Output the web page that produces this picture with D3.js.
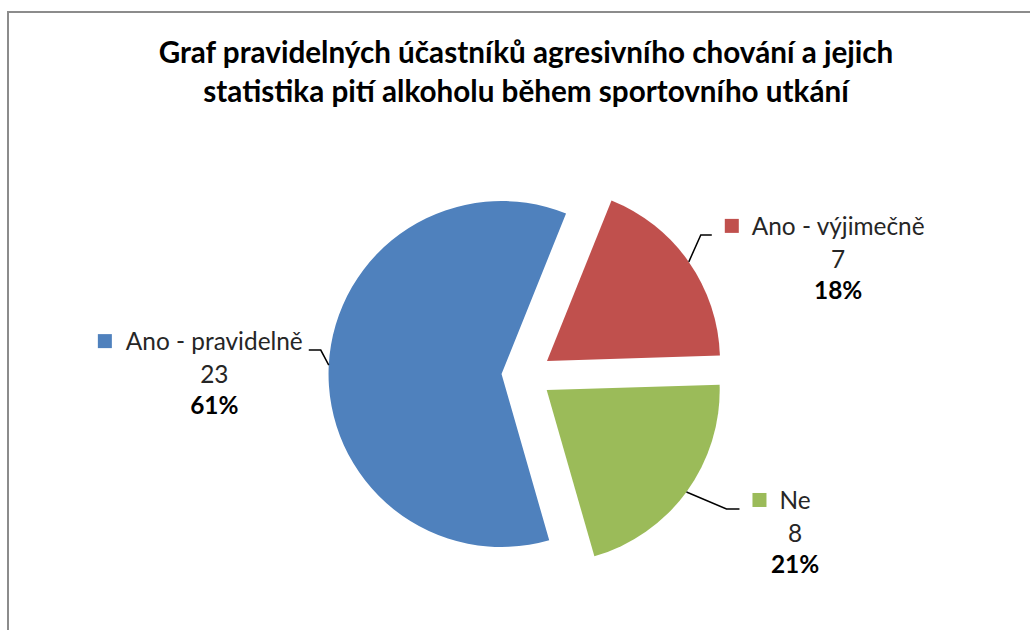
<!DOCTYPE html>
<html>
<head>
<meta charset="utf-8">
<script src="https://cdn.jsdelivr.net/npm/d3@7"></script>
<style>
  body { margin: 0; background: #fff; }
  svg { display: block; }
</style>
</head>
<body>
<div id="graf"></div>
<script>
// data
var categories = ["Ano - pravidelně", "Ano - výjimečně", "Ne"];
var values = [23, 7, 8];
var colors = ["#4F81BD", "#C0504D", "#9BBB59"];
var titleLines = ["Graf pravidelných účastníků agresivního chování a jejich",
                  "statistika pití alkoholu během sportovního utkání"];

var w = 1030, h = 630;
var font = "Lato, 'Open Sans', sans-serif";
var cx = 526.5, cy = 375.3, r = 173, explode = 25;
var start = 164 * Math.PI / 180;

// leader line elbows: [dx, dy] from arc point, then horizontal length
var leader = [[-8, -15, -12], [12, -27, 11], [40, 17, 13]];

var svg = d3.select("#graf").append("svg")
  .attr("width", w)
  .attr("height", h);

// border (only top and left visible)
svg.append("path")
  .attr("d", "M8," + h + "V12H" + w)
  .attr("fill", "none")
  .attr("stroke", "#8c8c8c")
  .attr("stroke-width", 2);

// fit a font size so that a string gets a given width
function fitSize(str, weight, target) {
  var t = svg.append("text").attr("font-family", font).attr("font-weight", weight)
    .attr("font-size", 100).text(str);
  var len = t.node().getComputedTextLength();
  t.remove();
  return 100 * target / len;
}

var titleSize = fitSize(titleLines[0], "bold", 735);
var labelSize = fitSize(categories[0], "normal", 177);

svg.selectAll(".title")
  .data(titleLines)
  .enter()
  .append("text")
  .attr("class", "title")
  .attr("x", 526)
  .attr("y", function(d, i) { return 63 + i * 39; })
  .attr("text-anchor", "middle")
  .attr("font-family", font)
  .attr("font-weight", "bold")
  .attr("font-size", titleSize)
  .attr("fill", "#000")
  .text(function(d) { return d; });

var pie = d3.pie().sort(null).startAngle(start).endAngle(start + 2 * Math.PI);
var arcs = pie(values);
var arc = d3.arc().innerRadius(0).outerRadius(r);
var total = d3.sum(values);
var pct = d3.format(".0%");

var g = svg.append("g").attr("transform", "translate(" + cx + "," + cy + ")");

arcs.forEach(function(a, i) {
  var mid = (a.startAngle + a.endAngle) / 2;
  var ox = Math.sin(mid) * explode, oy = -Math.cos(mid) * explode;

  g.append("path")
    .attr("d", arc(a))
    .attr("transform", "translate(" + ox + "," + oy + ")")
    .attr("fill", colors[i]);

  // leader line
  var px = ox + Math.sin(mid) * r, py = oy - Math.cos(mid) * r;
  var ex = px + leader[i][0], ey = py + leader[i][1];
  var hx = ex + leader[i][2];
  g.append("path")
    .attr("d", "M" + px + "," + py + "L" + ex + "," + ey + "L" + hx + "," + ey)
    .attr("fill", "none")
    .attr("stroke", "#000")
    .attr("stroke-width", 1.5);

  // label
  var lines = [categories[i], values[i], pct(values[i] / total)];
  var t0 = g.append("text").attr("font-family", font).attr("font-size", labelSize).text(lines[0]);
  var w1 = t0.node().getComputedTextLength();
  t0.remove();

  var right = leader[i][2] > 0;
  var keySize = 14;
  var keyX, textCx;
  if (right) {
    keyX = hx + 13;
    textCx = keyX + keySize + 13 + w1 / 2;
  } else {
    textCx = hx - 6 - w1 / 2;
    keyX = textCx - w1 / 2 - 14 - keySize;
  }

  g.append("rect")
    .attr("x", keyX)
    .attr("y", ey - 16)
    .attr("width", keySize)
    .attr("height", keySize)
    .attr("fill", colors[i]);

  lines.forEach(function(s, j) {
    g.append("text")
      .attr("x", textCx)
      .attr("y", ey + [0, 33, 64][j])
      .attr("text-anchor", "middle")
      .attr("font-family", font)
      .attr("font-size", labelSize)
      .attr("font-weight", j == 2 ? "bold" : "normal")
      .attr("fill", j == 2 ? "#000" : "#262626")
      .text(s);
  });
});
</script>
</body>
</html>
